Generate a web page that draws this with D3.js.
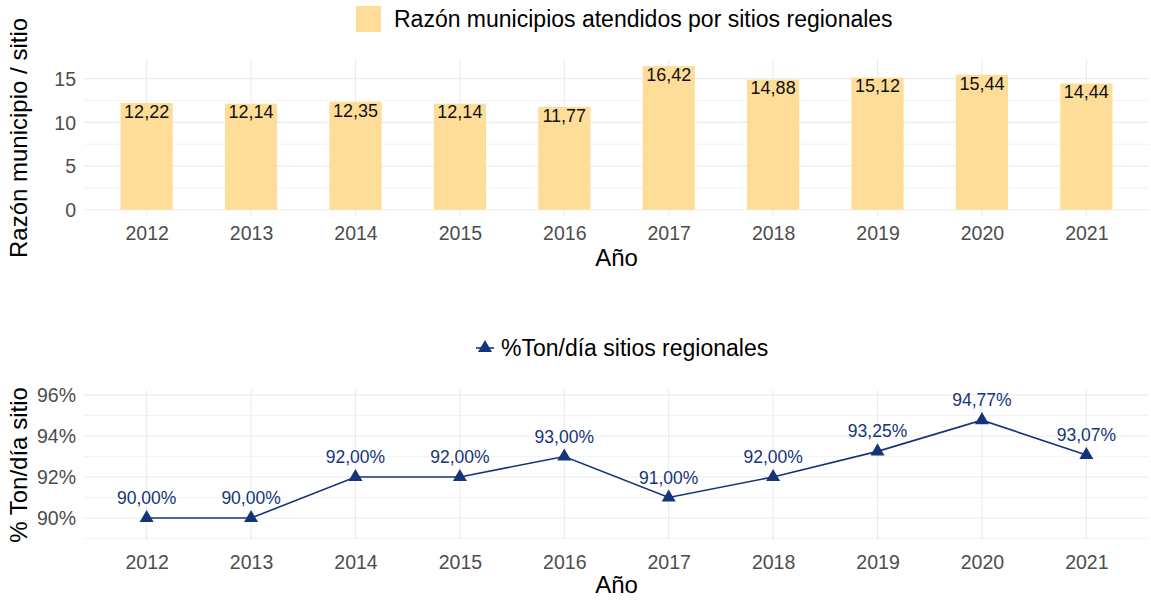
<!DOCTYPE html>
<html>
<head>
<meta charset="utf-8">
<script src="https://cdn.jsdelivr.net/npm/d3@7"></script>
<style>
  body { margin: 0; background: #fff; }
  svg text { font-family: "Liberation Sans", Arial, sans-serif; }
</style>
</head>
<body>
<svg id="chart" width="1151" height="601"></svg>
<script>
// data
var years = ['2012', '2013', '2014', '2015', '2016', '2017', '2018', '2019', '2020', '2021'];
var ratioValues = [12.22, 12.14, 12.35, 12.14, 11.77, 16.42, 14.88, 15.12, 15.44, 14.44];
var tonPct = [90.00, 90.00, 92.00, 92.00, 93.00, 91.00, 92.00, 93.25, 94.77, 93.07];
var ratioTicks = [0, 5, 10, 15];
var pctTicks = [90, 92, 94, 96];

var barColor = '#fedd99';
var lineColor = '#15357a';
var gridColor = '#ebebeb';

var svg = d3.select('#chart');
var comma = function(v, d){ return v.toFixed(d).replace('.', ','); };

var left = 84, right = 1149;

// discrete axis, ggplot style: 0.6 step of padding on each side, bars half a step wide
var step = (right - left) / (years.length + 0.2);
var x = d3.scalePoint().domain(years).range([left + 0.6 * step, right - 0.6 * step]);
var barW = step * 0.5;

function grid(g, y, majors, minors, top, bottom){
    g.selectAll('line.minor').data(minors).enter().append('line')
        .attr('x1', left).attr('x2', right)
        .attr('y1', function(d){ return y(d); }).attr('y2', function(d){ return y(d); })
        .attr('stroke', gridColor).attr('stroke-width', 0.6);
    g.selectAll('line.major').data(majors).enter().append('line')
        .attr('x1', left).attr('x2', right)
        .attr('y1', function(d){ return y(d); }).attr('y2', function(d){ return y(d); })
        .attr('stroke', gridColor).attr('stroke-width', 1.1);
    g.selectAll('line.vert').data(years).enter().append('line')
        .attr('x1', function(d){ return x(d); }).attr('x2', function(d){ return x(d); })
        .attr('y1', top).attr('y2', bottom)
        .attr('stroke', gridColor).attr('stroke-width', 1.1);
}

function axes(y, ticks, fmt, top, bottom, xLabY, titleY, yTitle){
    var ax = svg.append('g').attr('transform', 'translate(' + (left - 8) + ',0)')
        .call(d3.axisLeft(y).tickValues(ticks).tickFormat(fmt).tickSize(0).tickPadding(0));
    ax.select('.domain').remove();
    ax.selectAll('text').attr('fill', '#4d4d4d').style('font-size', '19.5px')
        .attr('dy', '0.35em');

    var bx = svg.append('g').attr('transform', 'translate(0,' + xLabY + ')')
        .call(d3.axisBottom(x).tickSize(0).tickPadding(0));
    bx.select('.domain').remove();
    bx.selectAll('text').attr('fill', '#4d4d4d').style('font-size', '19.5px').attr('dy', '0.35em');

    svg.append('text').attr('x', (left + right) / 2).attr('y', titleY)
        .attr('text-anchor', 'middle').attr('dy', '0.35em')
        .style('font-size', '24px').attr('fill', '#000').text('Año');

    svg.append('text')
        .attr('transform', 'translate(19,' + ((top + bottom) / 2) + ') rotate(-90)')
        .attr('text-anchor', 'middle').attr('dy', '0.35em')
        .style('font-size', '24px').attr('fill', '#000').text(yTitle);
}

// ---------- top panel: bars ----------
var t1 = 59, b1 = 217;
var y1 = d3.scaleLinear().domain([-0.05 * 16.42, 16.42 * 1.05]).range([b1, t1]);

grid(svg.append('g'), y1, ratioTicks, [2.5, 7.5, 12.5], t1, b1);

svg.append('g').selectAll('rect').data(ratioValues).enter().append('rect')
    .attr('x', function(d, i){ return x(years[i]) - barW / 2; })
    .attr('width', barW)
    .attr('y', function(d){ return y1(d); })
    .attr('height', function(d){ return y1(0) - y1(d); })
    .attr('fill', barColor);

svg.append('g').selectAll('text').data(ratioValues).enter().append('text')
    .attr('x', function(d, i){ return x(years[i]); })
    .attr('y', function(d){ return y1(d) + 8.5; })
    .attr('dy', '0.35em')
    .attr('text-anchor', 'middle')
    .style('font-size', '18px').attr('fill', '#111')
    .text(function(d){ return comma(d, 2); });

axes(y1, ratioTicks, function(d){ return d; }, t1, b1, 233, 258, 'Razón municipio / sitio');

// legend top
svg.append('rect').attr('x', 356).attr('y', 6).attr('width', 25).attr('height', 26).attr('fill', barColor);
svg.append('text').attr('x', 394).attr('y', 19).attr('dy', '0.35em')
    .style('font-size', '23px').attr('fill', '#000')
    .text('Razón municipios atendidos por sitios regionales');

// ---------- bottom panel: line ----------
var t2 = 390, b2 = 540;
var y2 = d3.scaleLinear().domain([88.93, 96.24]).range([b2, t2]);

grid(svg.append('g'), y2, pctTicks, [89, 91, 93, 95], t2, b2);

var line = d3.line()
    .x(function(d, i){ return x(years[i]); })
    .y(function(d){ return y2(d); });

svg.append('path').datum(tonPct).attr('d', line)
    .attr('fill', 'none').attr('stroke', lineColor).attr('stroke-width', 1.6);

var tri = d3.symbol().type(d3.symbolTriangle).size(85);
svg.append('g').selectAll('path').data(tonPct).enter().append('path')
    .attr('d', tri)
    .attr('transform', function(d, i){ return 'translate(' + x(years[i]) + ',' + y2(d) + ')'; })
    .attr('fill', lineColor);

svg.append('g').selectAll('text').data(tonPct).enter().append('text')
    .attr('x', function(d, i){ return x(years[i]); })
    .attr('y', function(d){ return y2(d) - 20; })
    .attr('dy', '0.35em')
    .attr('text-anchor', 'middle')
    .style('font-size', '17.5px').attr('fill', lineColor)
    .text(function(d){ return comma(d, 2) + '%'; });

axes(y2, pctTicks, function(d){ return d + '%'; }, t2, b2, 562, 585, '% Ton/día sitio');

// legend bottom
svg.append('line').attr('x1', 476).attr('x2', 494).attr('y1', 348).attr('y2', 348)
    .attr('stroke', lineColor).attr('stroke-width', 1.6);
svg.append('path').attr('d', tri).attr('transform', 'translate(485,348)').attr('fill', lineColor);
svg.append('text').attr('x', 501).attr('y', 348).attr('dy', '0.35em')
    .style('font-size', '23px').attr('fill', '#000')
    .text('%Ton/día sitios regionales');
</script>
</body>
</html>
